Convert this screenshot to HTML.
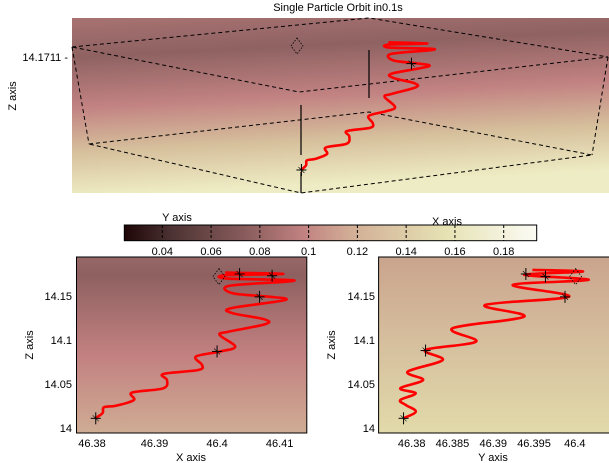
<!DOCTYPE html>
<html><head><meta charset="utf-8"><style>
body{margin:0;background:#fff;}
svg{display:block;font-family:"Liberation Sans",sans-serif;}
</style></head><body>
<svg id="c" width="609" height="463" viewBox="0 0 609 463">
<defs>
<linearGradient id="gTop" x1="0" y1="0" x2="0.15" y2="1">
<stop offset="0" stop-color="#a87272"/><stop offset="0.22" stop-color="#8f6262"/><stop offset="0.5" stop-color="#c28282"/><stop offset="0.75" stop-color="#d6c09c"/><stop offset="1" stop-color="#eeecc4"/>
</linearGradient>
<linearGradient id="gL" x1="0" y1="0" x2="0" y2="1">
<stop offset="0" stop-color="#966868"/><stop offset="0.1" stop-color="#8e6060"/><stop offset="0.55" stop-color="#c28080"/><stop offset="1" stop-color="#cfac94"/>
</linearGradient>
<linearGradient id="gR" x1="0" y1="0" x2="0" y2="1">
<stop offset="0" stop-color="#caa48e"/><stop offset="0.5" stop-color="#d6c09e"/><stop offset="1" stop-color="#e2daaa"/>
</linearGradient>
<linearGradient id="gCb" x1="0" y1="0" x2="1" y2="0">
<stop offset="0" stop-color="#1e0606"/><stop offset="0.12" stop-color="#4e3434"/><stop offset="0.3" stop-color="#8c5e5e"/><stop offset="0.43" stop-color="#c08080"/><stop offset="0.55" stop-color="#d2ae96"/><stop offset="0.78" stop-color="#e6e2b4"/><stop offset="1" stop-color="#fbfbf4"/>
</linearGradient>
</defs>
<text x="338" y="11" font-size="11" text-anchor="middle">Single Particle Orbit in0.1s</text>
<g>
<rect x="72" y="18" width="537" height="175" fill="url(#gTop)"/>
<g stroke="#000" stroke-width="1" stroke-dasharray="4,3" fill="none">
<polygon points="72,47 369,18 608,57 299,92"/>
<polygon points="89,144 369,112 592,155 301,193"/>
<line x1="72" y1="47" x2="89" y2="144"/><line x1="608" y1="57" x2="592" y2="155"/>
</g>
<g stroke="#000" stroke-width="1.2">
<line x1="301" y1="105" x2="301" y2="155"/><line x1="369" y1="50" x2="369" y2="98"/><line x1="301" y1="172" x2="301" y2="193"/>
</g>
<text x="68" y="61" font-size="11" text-anchor="end">14.1711 -</text>
<text transform="translate(16,96) rotate(-90)" font-size="11" text-anchor="middle">Z axis</text>
<g id="topCurve"></g>
</g>
<g>
<rect x="124.3" y="225" width="412.4" height="15.7" fill="url(#gCb)" stroke="#000" stroke-width="1"/>
<g id="cbTicks"></g>
<text x="177" y="221" font-size="11" text-anchor="middle">Y axis</text>
<text x="447" y="225" font-size="11" text-anchor="middle">X axis</text>
</g>
<g>
<rect x="76.5" y="257" width="230.3" height="176" fill="url(#gL)" stroke="#000"/>
<g id="lTicks"></g><g id="lCurve"></g>
<text x="191" y="461" font-size="11" text-anchor="middle">X axis</text>
<text transform="translate(33,345) rotate(-90)" font-size="11" text-anchor="middle">Z axis</text>
</g>
<g>
<rect x="378.6" y="257" width="232" height="176" fill="url(#gR)" stroke="#000"/>
<g id="rTicks"></g><g id="rCurve"></g>
<text x="493" y="461" font-size="11" text-anchor="middle">Y axis</text>
<text transform="translate(335,345) rotate(-90)" font-size="11" text-anchor="middle">Z axis</text>
</g>
</svg>
<script>
const leftX=[46.3805,46.3817,46.3819,46.3839,46.3867,46.3864,46.3914,46.3920,46.3914,46.3970,46.3976,46.3966,46.4004,46.4029,46.4004,46.4019,46.4078,46.4075,46.4025,46.4022,46.4109,46.4081,46.4025,46.4019,46.4112,46.4112,46.4016,46.4013,46.4106,46.4013];
const leftZ=[14.011,14.017,14.0235,14.0254,14.0318,14.0402,14.0451,14.0546,14.0614,14.0659,14.0716,14.0811,14.0868,14.0925,14.1058,14.1095,14.1182,14.1236,14.1304,14.1361,14.1455,14.1493,14.1531,14.1615,14.1664,14.1683,14.1698,14.1736,14.1751,14.1766];
const rightY=[46.3790,46.3805,46.3793,46.3786,46.3805,46.3786,46.3814,46.3795,46.3838,46.3817,46.3879,46.3850,46.3938,46.3890,46.3993,46.3924,46.4017,46.3938,46.4010,46.3948];
const rightZ=[14.011,14.0186,14.026,14.0318,14.0394,14.0451,14.0546,14.064,14.0773,14.0887,14.0982,14.1133,14.1266,14.1398,14.1493,14.1626,14.1683,14.174,14.1778,14.1797];
const leftMarkX=[46.3806,46.4000,46.4068,46.4036,46.4088];
const leftMarkZ=[14.011,14.087,14.149,14.175,14.173];
const rightMarkY=[46.3790,46.3817,46.3940,46.3964,46.3988];
const rightMarkZ=[14.011,14.088,14.175,14.172,14.149];
const xTicks=[46.38,46.39,46.40,46.41];
const xTickLabels=["46.38","46.39","46.4","46.41"];
const yTicks=[46.38,46.385,46.39,46.395,46.40];
const yTickLabels=["46.38","46.385","46.39","46.395","46.4"];
const zTicks=[14,14.05,14.1,14.15];
const zTickLabels=["14","14.05","14.1","14.15"];
const cbTicks=[0.04,0.06,0.08,0.1,0.12,0.14,0.16,0.18];
const cbTickLabels=["0.04","0.06","0.08","0.1","0.12","0.14","0.16","0.18"];
const NS="http://www.w3.org/2000/svg";
function mk(t,a,p){const e=document.createElementNS(NS,t);for(const k in a)e.setAttribute(k,a[k]);p.appendChild(e);return e;}
const zScale=z=>428+(z-14)*(296-428)/0.15;
const xScale=x=>92+(x-46.38)*(279.6-92)/0.03;
const yScale=y=>411.7+(y-46.38)*(574.8-411.7)/0.02;
const cbScale=v=>162.3+(v-0.04)*(503.7-162.3)/0.14;
const topPx=x=>301+(x-46.3805)*4200;
const topPy=z=>170-(z-14.011)*771;
function star(g,cx,cy){
  const s=mk('g',{stroke:'#000','stroke-width':1},g);
  
  
  mk('line',{x1:cx-5,y1:cy,x2:cx+5,y2:cy},s);mk('line',{x1:cx,y1:cy-6,x2:cx,y2:cy+6},s);
  mk('line',{x1:cx-3,y1:cy-3,x2:cx+3,y2:cy+3,'stroke-width':0.6},s);
}
function curve(g,xs,zs,fx,fz,name){
  const P=xs.map((v,i)=>[fx(v),fz(zs[i])]);
  let d='M'+P[0][0].toFixed(1)+','+P[0][1].toFixed(1);
  for(let i=0;i<P.length-1;i++){
    const p0=P[Math.max(i-1,0)],p1=P[i],p2=P[i+1],p3=P[Math.min(i+2,P.length-1)];
    const c1=[p1[0]+(p2[0]-p0[0])/6,p1[1]+(p2[1]-p0[1])/6];
    const c2=[p2[0]-(p3[0]-p1[0])/6,p2[1]-(p3[1]-p1[1])/6];
    d+='C'+c1[0].toFixed(1)+','+c1[1].toFixed(1)+' '+c2[0].toFixed(1)+','+c2[1].toFixed(1)+' '+p2[0].toFixed(1)+','+p2[1].toFixed(1);
  }
  const p=mk('path',{d:d,fill:'none',stroke:'#ff0000','stroke-width':2.6,'stroke-linejoin':'round'},g);
  
  
}
function diamond(g,cx,cy){
  const p=mk('path',{d:`M${cx},${cy-8}L${cx+6},${cy}L${cx},${cy+8}L${cx-6},${cy}Z`,fill:'none',stroke:'#000','stroke-width':0.8,'stroke-dasharray':'1.5,1.5'},g);
  
  
}
const lc=document.getElementById('lCurve');
curve(lc,leftX,leftZ,xScale,zScale,'xz-orbit-line');
leftMarkX.forEach((v,i)=>star(lc,xScale(v),zScale(leftMarkZ[i])));
diamond(lc,xScale(46.4003),zScale(14.172));
const lt=document.getElementById('lTicks');
xTicks.forEach((v,i)=>{const t=mk('text',{x:xScale(v),y:447,'font-size':11,'text-anchor':'middle'},lt);t.textContent=xTickLabels[i];

});
zTicks.forEach((v,i)=>{const t=mk('text',{x:72,y:zScale(v)+4,'font-size':11,'text-anchor':'end'},lt);t.textContent=zTickLabels[i];

});
const rc=document.getElementById('rCurve');
curve(rc,rightY,rightZ,yScale,zScale,'yz-orbit-line');
rightMarkY.forEach((v,i)=>star(rc,yScale(v),zScale(rightMarkZ[i])));
diamond(rc,yScale(46.4001),zScale(14.172));
const rt=document.getElementById('rTicks');
yTicks.forEach((v,i)=>{const t=mk('text',{x:yScale(v),y:447,'font-size':11,'text-anchor':'middle'},rt);t.textContent=yTickLabels[i];

});
zTicks.forEach((v,i)=>{const t=mk('text',{x:375,y:zScale(v)+4,'font-size':11,'text-anchor':'end'},rt);t.textContent=zTickLabels[i];

});
const cb=document.getElementById('cbTicks');
cbTicks.forEach((v,i)=>{mk('line',{x1:cbScale(v),y1:225,x2:cbScale(v),y2:240.7,stroke:'#000','stroke-dasharray':'3,2'},cb);
const t=mk('text',{x:cbScale(v),y:255,'font-size':11,'text-anchor':'middle'},cb);t.textContent=cbTickLabels[i];

});
const tc=document.getElementById('topCurve');
curve(tc,leftX,leftZ,topPx,topPy,'3d-orbit-line');
star(tc,topPx(leftMarkX[0]),topPy(leftMarkZ[0]));
star(tc,topPx(leftMarkX[2]),topPy(leftMarkZ[2]));
diamond(tc,297,46);
</script>
</body></html>
